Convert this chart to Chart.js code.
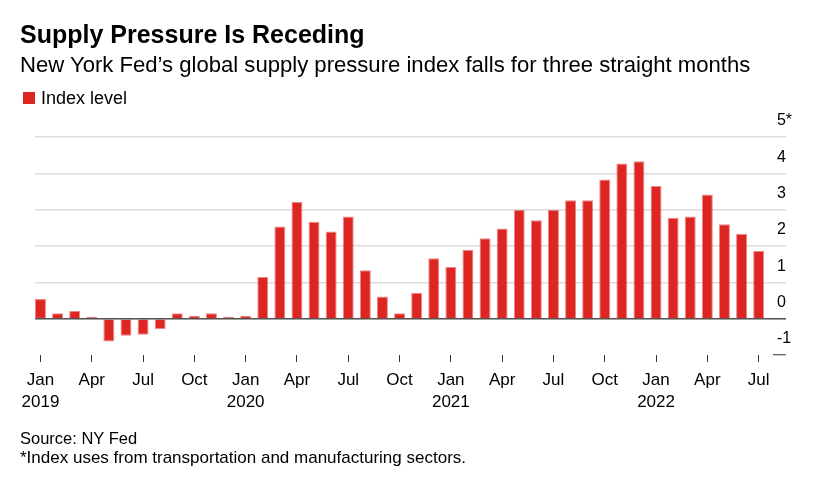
<!DOCTYPE html>
<html>
<head>
<meta charset="utf-8">
<script src="https://cdn.jsdelivr.net/npm/chart.js@4.4.0/dist/chart.umd.min.js"></script>
<style>
  body { margin: 0; background: #fff; font-family: 'Liberation Sans', Arial, sans-serif; color: #000; }
  #wrap { position: relative; width: 827px; height: 482px; overflow: hidden; }
  #wrap canvas { position: absolute; left: 0; top: 0; }
  .txt { position: absolute; left: 20px; white-space: nowrap; }
  #title { top: 21.5px; font-size: 25px; line-height: 25px; font-weight: bold; }
  #subtitle { top: 54px; font-size: 22.1px; line-height: 22px; }
  #legend { top: 88.5px; left: 41px; font-size: 18px; line-height: 18px; }
  #swatch { position: absolute; left: 23px; top: 92px; width: 12px; height: 12px; background: #dd2522; }
  #source { top: 429.5px; font-size: 16.5px; line-height: 16.5px; }
  #note { top: 448.5px; font-size: 17px; line-height: 17px; }
</style>
</head>
<body>
<div id="wrap">
  <canvas id="chart" width="827" height="482"></canvas>
  <div class="txt" id="title">Supply Pressure Is Receding</div>
  <div class="txt" id="subtitle">New York Fed’s global supply pressure index falls for three straight months</div>
  <div id="swatch"></div>
  <div class="txt" id="legend">Index level</div>
  <div class="txt" id="source">Source: NY Fed</div>
  <div class="txt" id="note">*Index uses from transportation and manufacturing sectors.</div>
</div>
<script>
// Monthly readings, Jan 2019 - Jul 2022
const months = [
  'Jan 2019', 'Feb 2019', 'Mar 2019', 'Apr 2019', 'May 2019', 'Jun 2019',
  'Jul 2019', 'Aug 2019', 'Sep 2019', 'Oct 2019', 'Nov 2019', 'Dec 2019',
  'Jan 2020', 'Feb 2020', 'Mar 2020', 'Apr 2020', 'May 2020', 'Jun 2020',
  'Jul 2020', 'Aug 2020', 'Sep 2020', 'Oct 2020', 'Nov 2020', 'Dec 2020',
  'Jan 2021', 'Feb 2021', 'Mar 2021', 'Apr 2021', 'May 2021', 'Jun 2021',
  'Jul 2021', 'Aug 2021', 'Sep 2021', 'Oct 2021', 'Nov 2021', 'Dec 2021',
  'Jan 2022', 'Feb 2022', 'Mar 2022', 'Apr 2022', 'May 2022', 'Jun 2022',
  'Jul 2022'
];
const indexLevel = [
  0.54, 0.15, 0.21, 0.05, -0.63, -0.47, -0.44, -0.29, 0.15, 0.08, 0.15, 0.05,
  0.08, 1.15, 2.54, 3.21, 2.67, 2.40, 2.81, 1.33, 0.61, 0.15, 0.71, 1.66,
  1.42, 1.90, 2.21, 2.48, 2.99, 2.71, 2.99, 3.26, 3.26, 3.83, 4.27, 4.33,
  3.65, 2.78, 2.81, 3.42, 2.60, 2.34, 1.86
];
// month positions that get a tick (Jan, Apr, Jul, Oct)
const tickMonths = [0, 3, 6, 9, 12, 15, 18, 21, 24, 27, 30, 33, 36, 39, 42];
const yTicks = [-1, 0, 1, 2, 3, 4, 5];

const red = '#dd2522';

// zero line sits on top of the bars
const zeroLine = {
  id: 'zeroLine',
  afterDatasetsDraw(chart) {
    const { ctx, chartArea, scales } = chart;
    const y = scales.y.getPixelForValue(0);
    ctx.save();
    ctx.strokeStyle = '#555';
    ctx.lineWidth = 1.5;
    ctx.beginPath();
    ctx.moveTo(chartArea.left, y);
    ctx.lineTo(chartArea.right, y);
    ctx.stroke();
    ctx.restore();
  }
};

Chart.defaults.font.family = "'Liberation Sans', Arial, sans-serif";
Chart.defaults.color = '#000';

new Chart(document.getElementById('chart'), {
  type: 'bar',
  data: {
    datasets: [{
      label: 'Index level',
      data: indexLevel.map((v, i) => ({ x: i, y: v })),
      backgroundColor: red,
      borderColor: 'rgba(221, 37, 34, 0.55)',
      borderWidth: 1,
      barPercentage: 0.64,
      categoryPercentage: 1.0
    }]
  },
  options: {
    responsive: false,
    animation: false,
    layout: {
      padding: { left: 35, top: 137, right: 0, bottom: 60 }
    },
    plugins: {
      legend: { display: false },
      tooltip: { enabled: false }
    },
    scales: {
      x: {
        type: 'linear',
        offset: false,
        min: -0.32,
        max: 43.6,
        afterBuildTicks: (scale) => {
          scale.ticks = tickMonths.map(v => ({ value: v }));
        },
        afterFit: (scale) => { scale.height = 67; },
        grid: {
          offset: false,
          drawOnChartArea: false,
          tickLength: 7,
          tickColor: '#333',
          tickWidth: 1
        },
        border: { display: false },
        ticks: {
          autoSkip: false,
          maxRotation: 0,
          padding: 8,
          font: { size: 17, lineHeight: 1.25 },
          callback: (v) => {
            const [m, y] = months[v].split(' ');
            return m === 'Jan' ? [m, y] : m;
          }
        }
      },
      y: {
        position: 'right',
        min: -1,
        max: 5,
        afterBuildTicks: (scale) => {
          scale.ticks = yTicks.map(v => ({ value: v }));
        },
        afterFit: (scale) => { scale.width = 41; },
        grid: {
          color: (c) => c.tick && c.tick.value === -1 ? 'rgba(0,0,0,0)' : '#dcdcdc',
          lineWidth: 1.5,
          tickColor: (c) => c.tick && c.tick.value === -1 ? '#333' : 'rgba(0,0,0,0)',
          tickLength: -13,
          tickWidth: 1
        },
        border: { display: false },
        ticks: {
          mirror: true,
          crossAlign: 'far',
          padding: 6,
          labelOffset: -16,
          font: { size: 16 },
          callback: (v) => v === 5 ? '5*' : String(v)
        }
      }
    }
  },
  plugins: [zeroLine]
});
</script>
</body>
</html>
